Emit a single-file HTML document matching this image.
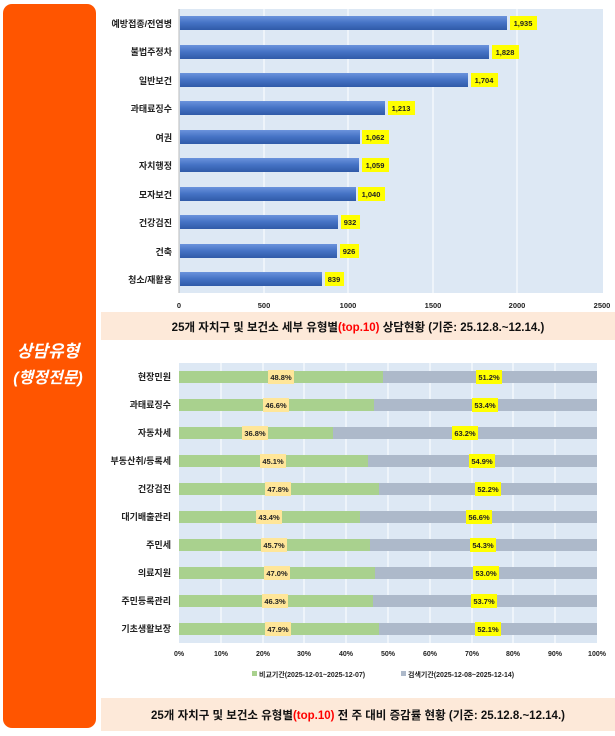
<!DOCTYPE html>
<html><head><meta charset="utf-8"><style>
body{margin:0;background:#fff;width:615px;height:731px;overflow:hidden}
svg text{font-family:"Liberation Sans","Noto Sans CJK KR",sans-serif}
</style></head><body>
<svg width="615" height="731" viewBox="0 0 615 731" xmlns="http://www.w3.org/2000/svg">
<defs>
<linearGradient id="bl" x1="0" y1="0" x2="0" y2="1"><stop offset="0" stop-color="#6b93dc"/><stop offset="0.5" stop-color="#4472c4"/><stop offset="1" stop-color="#2f5aa8"/></linearGradient>
</defs>
<rect x="3" y="4" width="93" height="724" rx="9" fill="#ff5500"/>
<text x="48" y="357" fill="#fff" font-size="17" font-weight="bold" font-style="italic" text-anchor="middle">상담유형</text>
<text x="48" y="383" fill="#fff" font-size="16" font-weight="bold" font-style="italic" text-anchor="middle">(행정전문)</text>

<!-- top chart -->
<rect x="179" y="9" width="424" height="284" fill="#dde8f4"/>
<g stroke="#fff" stroke-width="1">
<line x1="264" y1="9" x2="264" y2="293"/><line x1="348" y1="9" x2="348" y2="293"/><line x1="433" y1="9" x2="433" y2="293"/><line x1="517" y1="9" x2="517" y2="293"/>
</g>
<line x1="179" y1="9" x2="179" y2="293" stroke="#bbb"/>
<g font-size="9" font-weight="bold" fill="#222">
<text x="172" y="27" text-anchor="end">예방접종/전염병</text>
<text x="172" y="55" text-anchor="end">불법주정차</text>
<text x="172" y="84" text-anchor="end">일반보건</text>
<text x="172" y="112" text-anchor="end">과태료징수</text>
<text x="172" y="141" text-anchor="end">여권</text>
<text x="172" y="169" text-anchor="end">자치행정</text>
<text x="172" y="198" text-anchor="end">모자보건</text>
<text x="172" y="226" text-anchor="end">건강검진</text>
<text x="172" y="255" text-anchor="end">건축</text>
<text x="172" y="283" text-anchor="end">청소/재활용</text>
</g>
<g fill="url(#bl)">
<rect x="180" y="16" width="327" height="14"/>
<rect x="180" y="45" width="309" height="14"/>
<rect x="180" y="73" width="288" height="14"/>
<rect x="180" y="101" width="205" height="14"/>
<rect x="180" y="130" width="180" height="14"/>
<rect x="180" y="158" width="179" height="14"/>
<rect x="180" y="187" width="176" height="14"/>
<rect x="180" y="215" width="158" height="14"/>
<rect x="180" y="244" width="157" height="14"/>
<rect x="180" y="272" width="142" height="14"/>
</g>
<g fill="#ffff00">
<rect x="510" y="16" width="27" height="14"/>
<rect x="492" y="45" width="27" height="14"/>
<rect x="471" y="73" width="27" height="14"/>
<rect x="388" y="101" width="27" height="14"/>
<rect x="362" y="130" width="27" height="14"/>
<rect x="362" y="158" width="27" height="14"/>
<rect x="358" y="187" width="27" height="14"/>
<rect x="341" y="215" width="19" height="14"/>
<rect x="340" y="244" width="19" height="14"/>
<rect x="325" y="272" width="19" height="14"/>
</g>
<g font-size="7.5" font-weight="bold" fill="#222" text-anchor="middle">
<text x="523" y="26">1,935</text><text x="505" y="55">1,828</text><text x="484" y="83">1,704</text><text x="401" y="111">1,213</text><text x="375" y="140">1,062</text><text x="375" y="168">1,059</text><text x="371" y="197">1,040</text><text x="350" y="225">932</text><text x="349" y="254">926</text><text x="334" y="282">839</text>
</g>
<g font-size="7.5" font-weight="bold" fill="#222" text-anchor="middle">
<text x="179" y="308">0</text><text x="264" y="308">500</text><text x="348" y="308">1000</text><text x="433" y="308">1500</text><text x="517" y="308">2000</text><text x="602" y="308">2500</text>
</g>
<rect x="101" y="312" width="514" height="28" fill="#fde9d9"/>
<text x="358" y="331" font-size="11.5" font-weight="bold" fill="#111" text-anchor="middle">25개 자치구 및 보건소 세부 유형별<tspan fill="#ff0000">(top.10)</tspan> 상담현황  (기준: 25.12.8.~12.14.)</text>

<!-- bottom chart -->
<rect x="179" y="363" width="418" height="280" fill="#dde8f4"/>
<g stroke="#fff"><line x1="221" y1="363" x2="221" y2="643"/><line x1="263" y1="363" x2="263" y2="643"/><line x1="304" y1="363" x2="304" y2="643"/><line x1="346" y1="363" x2="346" y2="643"/><line x1="388" y1="363" x2="388" y2="643"/><line x1="430" y1="363" x2="430" y2="643"/><line x1="472" y1="363" x2="472" y2="643"/><line x1="513" y1="363" x2="513" y2="643"/><line x1="555" y1="363" x2="555" y2="643"/></g>
<g font-size="9" font-weight="bold" fill="#222" text-anchor="end">
<text x="171" y="380">현장민원</text><text x="171" y="408">과태료징수</text><text x="171" y="436">자동차세</text><text x="171" y="464">부동산취/등록세</text><text x="171" y="492">건강검진</text><text x="171" y="520">대기배출관리</text><text x="171" y="548">주민세</text><text x="171" y="576">의료지원</text><text x="171" y="604">주민등록관리</text><text x="171" y="632">기초생활보장</text>
</g>
<g fill="#adb9ca"><rect x="179" y="371" width="418" height="12"/><rect x="179" y="399" width="418" height="12"/><rect x="179" y="427" width="418" height="12"/><rect x="179" y="455" width="418" height="12"/><rect x="179" y="483" width="418" height="12"/><rect x="179" y="511" width="418" height="12"/><rect x="179" y="539" width="418" height="12"/><rect x="179" y="567" width="418" height="12"/><rect x="179" y="595" width="418" height="12"/><rect x="179" y="623" width="418" height="12"/></g>
<g fill="#a9d18e"><rect x="179" y="371" width="204" height="12"/><rect x="179" y="399" width="195" height="12"/><rect x="179" y="427" width="154" height="12"/><rect x="179" y="455" width="189" height="12"/><rect x="179" y="483" width="200" height="12"/><rect x="179" y="511" width="181" height="12"/><rect x="179" y="539" width="191" height="12"/><rect x="179" y="567" width="196" height="12"/><rect x="179" y="595" width="194" height="12"/><rect x="179" y="623" width="200" height="12"/></g>
<g fill="#ffe699"><rect x="268" y="370" width="26" height="14"/><rect x="263" y="398" width="26" height="14"/><rect x="242" y="426" width="26" height="14"/><rect x="260" y="454" width="26" height="14"/><rect x="265" y="482" width="26" height="14"/><rect x="256" y="510" width="26" height="14"/><rect x="261" y="538" width="26" height="14"/><rect x="264" y="566" width="26" height="14"/><rect x="262" y="594" width="26" height="14"/><rect x="265" y="622" width="26" height="14"/></g>
<g fill="#ffff00"><rect x="476" y="370" width="26" height="14"/><rect x="472" y="398" width="26" height="14"/><rect x="452" y="426" width="26" height="14"/><rect x="469" y="454" width="26" height="14"/><rect x="475" y="482" width="26" height="14"/><rect x="466" y="510" width="26" height="14"/><rect x="470" y="538" width="26" height="14"/><rect x="473" y="566" width="26" height="14"/><rect x="471" y="594" width="26" height="14"/><rect x="475" y="622" width="26" height="14"/></g>
<g font-size="7.5" font-weight="bold" fill="#222" text-anchor="middle">
<text x="281" y="380">48.8%</text><text x="489" y="380">51.2%</text>
<text x="276" y="408">46.6%</text><text x="485" y="408">53.4%</text>
<text x="255" y="436">36.8%</text><text x="465" y="436">63.2%</text>
<text x="273" y="464">45.1%</text><text x="482" y="464">54.9%</text>
<text x="278" y="492">47.8%</text><text x="488" y="492">52.2%</text>
<text x="269" y="520">43.4%</text><text x="479" y="520">56.6%</text>
<text x="274" y="548">45.7%</text><text x="483" y="548">54.3%</text>
<text x="277" y="576">47.0%</text><text x="486" y="576">53.0%</text>
<text x="275" y="604">46.3%</text><text x="484" y="604">53.7%</text>
<text x="278" y="632">47.9%</text><text x="488" y="632">52.1%</text>
</g>
<g font-size="7" font-weight="bold" fill="#222" text-anchor="middle">
<text x="179" y="656">0%</text><text x="221" y="656">10%</text><text x="263" y="656">20%</text><text x="304" y="656">30%</text><text x="346" y="656">40%</text><text x="388" y="656">50%</text><text x="430" y="656">60%</text><text x="472" y="656">70%</text><text x="513" y="656">80%</text><text x="555" y="656">90%</text><text x="597" y="656">100%</text>
</g>
<rect x="252" y="671" width="5" height="5" fill="#a9d18e"/>
<text x="259" y="677" font-size="7" font-weight="bold" fill="#222">비교기간(2025-12-01~2025-12-07)</text>
<rect x="401" y="671" width="5" height="5" fill="#adb9ca"/>
<text x="408" y="677" font-size="7" font-weight="bold" fill="#222">검색기간(2025-12-08~2025-12-14)</text>
<rect x="101" y="698" width="514" height="33" fill="#fde9d9"/>
<text x="358" y="719" font-size="11.5" font-weight="bold" fill="#111" text-anchor="middle">25개 자치구 및 보건소 유형별<tspan fill="#ff0000">(top.10)</tspan> 전 주 대비 증감률 현황 (기준: 25.12.8.~12.14.)</text>
</svg>
</body></html>
